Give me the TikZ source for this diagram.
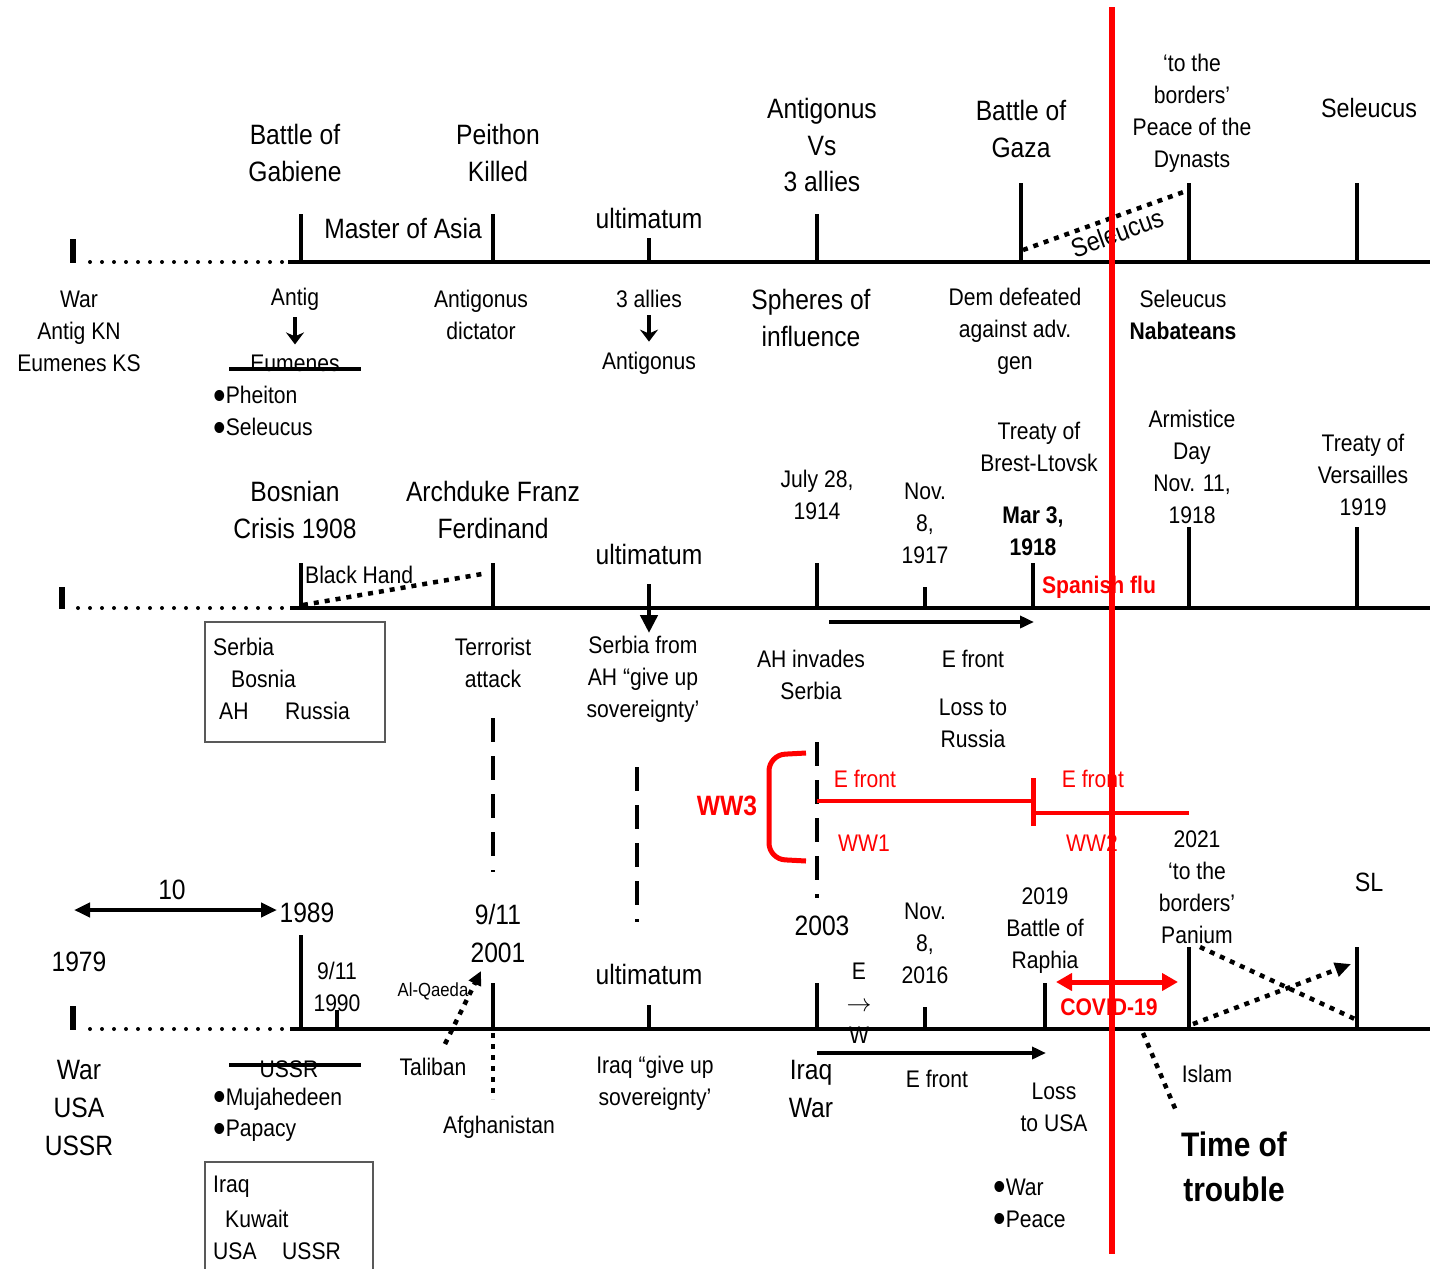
\documentclass[tikz,border=0pt]{standalone}
\usepackage{fontspec}
\setmainfont{Liberation Sans}[FakeStretch=0.88]
\usetikzlibrary{arrows.meta}
\newcommand\fsm{\fontsize{24}{32}\selectfont}
\newcommand\flg{\fontsize{28}{36.5}\selectfont}
\newcommand\fmid{\fontsize{26.5}{32}\selectfont}
\newcommand\fal{\fontsize{19}{24}\selectfont}
\newcommand\fhuge{\fontsize{34}{45}\selectfont\bfseries}
\newcommand\bul{\raisebox{-0.24em}[0pt][0pt]{\scalebox{1.7}{•}}}
\begin{document}
\begin{tikzpicture}[x=1pt,y=-1pt,
  mainl/.style={line width=4pt},
  tick/.style={line width=4.5pt},
  lmark/.style={line width=6pt},
  sm/.style={font=\fsm, align=center, inner sep=0pt},
  lg/.style={font=\flg, align=center, inner sep=0pt},
  dotl/.style={line width=4pt, dash pattern=on 0pt off 12pt, line cap=round},
  sqdot/.style={line width=4.5pt, dash pattern=on 5pt off 6pt},
  dashv/.style={line width=4pt, dash pattern=on 24pt off 14pt},
  strike/.style={line width=4pt},
  darr/.style={line width=4.5pt, -{Stealth[length=12pt,width=18pt]}},
  farr/.style={line width=3.5pt, -{Triangle[length=14pt,width=12pt]}},
  redl/.style={red, line width=5pt},
  rtxt/.style={text=red, inner sep=0pt, align=center},
  boxl/.style={draw=black!65, line width=1.2pt}
]
\useasboundingbox (0,0) rectangle (1435,1269);

% ================= Timeline 1 =================
\coordinate (a0) at (90,262); \coordinate (a1) at (284,262);
\coordinate (a2) at (288,262); \coordinate (a3) at (1430,262);
\draw[dotl] (a0) -- (a1);
\draw[mainl] (a2) -- (a3);
\draw[lmark] (73,239) -- (73,263);
\foreach \x/\t in {301/214, 493/214, 649/238, 817/214, 1021/183, 1189/183, 1357/183}
  \draw[tick] (\x,\t) -- (\x,262);

\node[lg] (bg) at (295,153) {Battle of\\Gabiene};
\node[lg] (ma) at (403,228) {Master of Asia};
\node[lg] (pk) at (498,153) {Peithon\\Killed};
\node[lg] (ul1) at (649,218) {ultimatum};
\node[lg] (av) at (822,145) {Antigonus\\Vs\\3 allies};
\node[lg] (bz) at (1021,129) {Battle of\\Gaza};
\node[sm] (pd) at (1192,113) {‘to the\\borders’\\Peace of the\\Dynasts};
\node[lg, font=\fmid] (se) at (1369,108) {Seleucus};

\coordinate (s1) at (1023,250); \coordinate (s2) at (1189,190);
\draw[sqdot] (s1) -- (s2);
\node[inner sep=0pt, font=\fmid, rotate=20] (selr) at (1117,233) {Seleucus};

\node[sm] (war1) at (79,331) {War\\Antig KN\\Eumenes KS};
\node[sm] (antig) at (295,299) {Antig};
\node[sm] (eum) at (295,363) {Eumenes};
\draw[darr, shorten <=7pt, shorten >=10pt] (antig) -- (eum);
\coordinate (e1) at (229,369); \coordinate (e2) at (361,369);
\draw[strike] (e1) -- (e2);
\node[sm, anchor=west] (ph) at (213,395) {\bul Pheiton};
\node[sm, anchor=west] (sl) at (213,427) {\bul Seleucus};
\node[sm] (ad) at (481,315) {Antigonus\\dictator};
\node[sm] (al3) at (649,299) {3 allies};
\node[sm] (ant2) at (649,363) {Antigonus};
\draw[darr, shorten <=7pt, shorten >=10pt] (al3) -- (ant2);
\node[lg] (sph) at (811,318) {Spheres of\\influence};
\node[sm] (dem) at (1015,331) {Dem defeated\\against adv.\\gen};
\node[sm] (sn) at (1183,315) {Seleucus\\\textbf{Nabateans}};

% ================= Timeline 2 =================
\coordinate (b0) at (78,608); \coordinate (b1) at (283,608);
\coordinate (b2) at (290,608); \coordinate (b3) at (1430,608);
\draw[dotl] (b0) -- (b1);
\draw[mainl] (b2) -- (b3);
\draw[lmark] (62,587) -- (62,609);
\foreach \x/\t in {301/563, 493/563, 817/563, 925/587, 1033/563, 1189/527, 1357/527}
  \draw[tick] (\x,\t) -- (\x,608);
\coordinate (u2a) at (649,584); \coordinate (u2b) at (649,633);
\draw[line width=4.5pt, -{Triangle[length=18pt,width=17pt]}] (u2a) -- (u2b);

\node[lg] (bc) at (295,510) {Bosnian\\Crisis 1908};
\node[lg] (af) at (493,510) {Archduke Franz\\Ferdinand};
\node[lg] (ul2) at (649,554) {ultimatum};
\node[sm] (j28) at (817,495) {July 28,\\1914};
\node[sm] (n17) at (925,523) {Nov.\\8,\\1917};
\node[sm] (tbl) at (1039,447) {Treaty of\\Brest-Ltovsk};
\node[sm, font=\fsm\bfseries] (m3) at (1033,531) {Mar 3,\\1918};
\node[sm] (arm) at (1192,467) {Armistice\\Day\\Nov. 11,\\1918};
\node[sm] (tv) at (1363,475) {Treaty of\\Versailles\\1919};
\node[sm, anchor=west] (bh) at (305,575) {Black Hand};
\coordinate (h1) at (303,605); \coordinate (h2) at (482,574);
\draw[sqdot] (h1) -- (h2);
\node[rtxt, font=\fsm\bfseries] (sf) at (1099,587) {Spanish flu};

\node[boxl, minimum width=180pt, minimum height=120pt, inner sep=0pt] (sbox) at (295,682) {};
\node[sm, anchor=west] (sb1) at (213,647) {Serbia};
\node[sm, anchor=west] (sb2) at (231,679) {Bosnia};
\node[sm, anchor=west] (sb3) at (219,711) {AH};
\node[sm, anchor=west] (sb4) at (285,711) {Russia};
\node[sm] (ta) at (493,663) {Terrorist\\attack};
\node[sm] (sfa) at (643,679) {Serbia from\\AH “give up\\sovereignty’};
\node[sm] (ahi) at (811,675) {AH invades\\Serbia};
\coordinate (f1a) at (829,622); \coordinate (f1b) at (1034,622);
\draw[farr] (f1a) -- (f1b);
\node[sm] (ef1) at (973,659) {E front};
\node[sm] (lr) at (973,723) {Loss to\\Russia};

% dashed verticals
\draw[dashv] (493,718) -- (493,872);
\draw[dashv] (637,767) -- (637,922);
\draw[dashv] (817,742) -- (817,898);

% ================= red WW block =================
\node[rtxt, font=\flg\bfseries] (ww3) at (727,806) {WW3};
\draw[redl, rounded corners=16pt] (806,753) -- (769,755) -- (769,859) -- (806,861);
\coordinate (r1) at (817,801); \coordinate (r2) at (1033,801);
\draw[red, line width=4.5pt] (r1) -- (r2);
\draw[red, line width=5pt] (1033,778) -- (1033,826);
\coordinate (r3) at (1033,813); \coordinate (r4) at (1189,813);
\draw[red, line width=4.5pt] (r3) -- (r4);
\node[rtxt, font=\fsm] (ef2) at (865,779) {E front};
\node[rtxt, font=\fsm] (ef3) at (1093,779) {E front};
\node[rtxt, font=\fsm] (ww1) at (864,843) {WW1};
\node[rtxt, font=\fsm] (ww2) at (1092,843) {WW2};

% ================= Timeline 3 =================
\coordinate (c0) at (90,1029); \coordinate (c1) at (283,1029);
\coordinate (c2) at (290,1029); \coordinate (c3) at (1430,1029);
\draw[dotl] (c0) -- (c1);
\draw[mainl] (c2) -- (c3);
\draw[lmark] (73,1006) -- (73,1030);
\foreach \x/\t in {301/935, 337/1010, 493/983, 649/1005, 817/983, 925/1007, 1045/983, 1189/947, 1357/947}
  \draw[tick] (\x,\t) -- (\x,1029);
\draw[line width=4.5pt, dash pattern=on 5pt off 6pt] (493,1033) -- (493,1099);

\node[lg] (ten) at (172,890) {10};
\coordinate (t1) at (74,910); \coordinate (t2) at (277,910);
\draw[line width=4pt, {Triangle[length=16pt,width=14pt]}-{Triangle[length=16pt,width=14pt]}] (t1) -- (t2);
\node[lg] (y89) at (307,913) {1989};
\node[lg] (y79) at (79,962) {1979};
\node[sm] (y90) at (337,987) {9/11\\1990};
\node[inner sep=0pt, font=\fal] (alq) at (433,991) {Al-Qaeda};
\coordinate (q1) at (445,1044); \coordinate (q2) at (481,971);
\draw[sqdot, -{Triangle[length=14pt,width=13pt]}] (q1) -- (q2);
\node[lg, font=\fontsize{28}{38}\selectfont] (y01) at (498,933) {9/11\\2001};
\node[lg] (ul3) at (649,974) {ultimatum};
\node[lg] (y03) at (822,926) {2003};
\node[sm] (ew) at (859,1003) {E\\$\rightarrow$\\W};
\node[sm] (n16) at (925,943) {Nov.\\8,\\2016};
\node[sm] (br) at (1045,931) {2019\\Battle of\\Raphia};
\node[sm] (pa) at (1197,887) {2021\\‘to the\\borders’\\Panium};
\node[lg, font=\fmid] (slb) at (1369,882) {SL};

\coordinate (cv1) at (1056,982); \coordinate (cv2) at (1178,982);
\draw[red, line width=5pt, {Triangle[length=16pt,width=17pt]}-{Triangle[length=16pt,width=17pt]}] (cv1) -- (cv2);
\node[rtxt, font=\fsm\bfseries] (cov) at (1109,1007) {COVID-19};

\coordinate (p1) at (1200,947); \coordinate (p2) at (1357,1020);
\draw[sqdot] (p1) -- (p2);
\coordinate (p3) at (1193,1024); \coordinate (p4) at (1351,964);
\draw[sqdot, -{Triangle[length=16pt,width=14pt]}] (p3) -- (p4);
\coordinate (tt1) at (1143,1033); \coordinate (tt2) at (1177,1113);
\draw[sqdot] (tt1) -- (tt2);

\node[lg, font=\fontsize{28}{38}\selectfont] (wuu) at (79,1108) {War\\USA\\USSR};
\node[sm] (ussr) at (289,1069) {USSR};
\coordinate (us1) at (229,1065); \coordinate (us2) at (361,1065);
\draw[strike] (us1) -- (us2);
\node[sm, anchor=west] (mu) at (213,1099) {\bul Mujahedeen};
\node[sm, anchor=west] (pap) at (213,1131) {\bul Papacy};
\draw[boxl] (205,1275) -- (205,1162) -- (373,1162) -- (373,1275);
\node[sm, anchor=west] (ib1) at (213,1187) {Iraq};
\node[sm, anchor=west] (ib2) at (225,1219) {Kuwait};
\node[sm, anchor=west] (ib3) at (213,1251) {USA};
\node[sm, anchor=west] (ib4) at (282,1251) {USSR};
\node[sm] (tal) at (433,1067) {Taliban};
\node[sm] (afg) at (499,1127) {Afghanistan};
\node[sm] (igu) at (655,1083) {Iraq “give up\\sovereignty’};
\node[lg, font=\fontsize{28}{38}\selectfont] (iw) at (811,1089) {Iraq\\War};
\coordinate (f3a) at (817,1053); \coordinate (f3b) at (1046,1053);
\draw[farr] (f3a) -- (f3b);
\node[sm] (ef4) at (937,1079) {E front};
\node[sm] (lu) at (1054,1107) {Loss\\to USA};
\node[sm] (isl) at (1207,1074) {Islam};
\node[inner sep=0pt, align=center, font=\fhuge] (tot) at (1234,1167) {Time of\\trouble};
\node[sm, anchor=west] (wp1) at (993,1187) {\bul War};
\node[sm, anchor=west] (wp2) at (993,1219) {\bul Peace};

% ================= big red line =================
\coordinate (rv1) at (1112,7); \coordinate (rv2) at (1112,1254);
\draw[red, line width=5.5pt] (rv1) -- (rv2);
\end{tikzpicture}
\end{document}
